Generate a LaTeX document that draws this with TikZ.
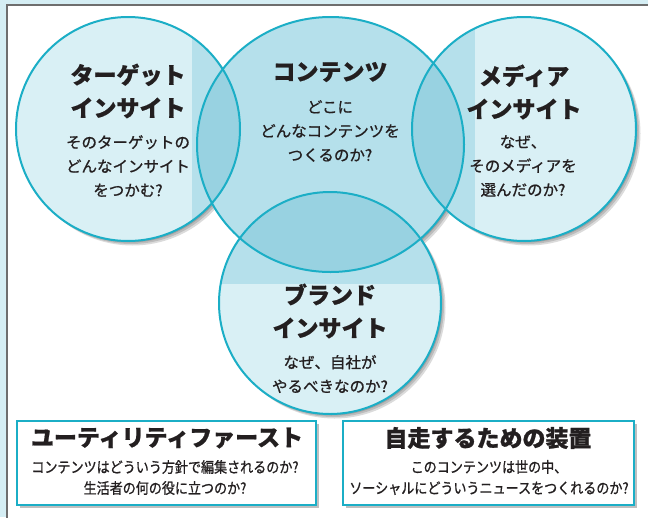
\documentclass[tikz,border=0pt]{standalone}
\usepackage{fontspec}
\setmainfont{Noto Sans CJK JP}
\newfontfamily\jpn{Noto Sans CJK JP}[FakeStretch=0.87,FakeBold=0.8]
\newfontfamily\jpm{Noto Sans CJK JP}[FakeBold=0.9]
\newfontfamily\jpt{Noto Sans CJK JP}[BoldFeatures={FakeBold=0.8}]
\definecolor{bgblue}{HTML}{D5EEF4}
\definecolor{framegray}{HTML}{6E6E6E}
\definecolor{ringcol}{HTML}{1BAEC6}
\definecolor{lightf}{HTML}{D9F0F5}
\definecolor{midf}{HTML}{B5E0EB}
\definecolor{darkf}{HTML}{98D2E1}
\definecolor{txt}{HTML}{231F20}
\begin{document}
\begin{tikzpicture}[x=1pt,y=-1pt,
  ring/.style={draw=ringcol,line width=2pt},
  ttl/.style={font=\jpt\fontsize{23}{33}\selectfont\bfseries,align=center,text=txt,inner sep=0pt},
  sub/.style={font=\jpm\fontsize{15.5}{24}\selectfont,align=center,text=txt,inner sep=0pt},
  boxttl/.style={font=\jpt\fontsize{23}{28}\selectfont\bfseries,text=txt,inner sep=0pt},
  boxsub/.style={font=\jpn\fontsize{15}{21}\selectfont,align=center,text=txt,inner sep=0pt},
  card/.style={draw=ringcol,line width=2.2pt,fill=white,inner sep=0pt},
  shade/.style={fill=black,opacity=0.14}]
\useasboundingbox (0,0) rectangle (648,517);
\clip (0,0) rectangle (648,517);
\fill[bgblue] (0,0) rectangle (648,517);
\fill[white] (7,5) rectangle (660,530);
\draw[framegray,line width=1.5pt] (7,530) -- (7,5) -- (660,5);

\def\cL{(128,129) circle[radius=112]}
\def\cR{(524,129) circle[radius=112]}
\def\cB{(330,303) circle[radius=111]}
\def\cC{(330.5,144.5) ellipse[x radius=133.5,y radius=127.5]}

% soft shadows
\foreach \d in {1.5,3,4.5}{
  \fill[shade,shift={(\d,\d)}] \cL;
  \fill[shade,shift={(\d,\d)}] \cR;
  \fill[shade,shift={(\d,\d)}] \cB;
  \fill[shade,shift={(\d,\d)}] \cC;
}
% light circles
\fill[lightf] \cL;
\fill[lightf] \cR;
\fill[lightf] \cB;
% tint band
\begin{scope}\clip \cL; \fill[midf] (192,0) rectangle (475,284);\end{scope}
\begin{scope}\clip \cR; \fill[midf] (192,0) rectangle (475,284);\end{scope}
\begin{scope}\clip \cB; \fill[midf] (192,0) rectangle (475,284);\end{scope}
% centre circle
\fill[midf] \cC;
% lenses
\begin{scope}\clip \cC;
  \fill[darkf] \cL;
  \fill[darkf] \cR;
  \fill[darkf] \cB;
\end{scope}
% outlines
\draw[ring] \cL;
\draw[ring] \cR;
\draw[ring] \cB;
\draw[ring] \cC;

% circle texts
\node[ttl] (tgtT) at (128,91) {ターゲット\\インサイト};
\node[sub] (tgtS) at (128,166) {そのターゲットの\\どんなインサイト\\をつかむ?};
\node[ttl] (conT) at (330,72) {コンテンツ};
\node[sub] (conS) at (330,131) {どこに\\どんなコンテンツを\\つくるのか?};
\node[ttl] (medT) at (524,92) {メディア\\インサイト};
\node[sub] (medS) at (523,166) {なぜ、\\そのメディアを\\選んだのか?};
\node[ttl] (brnT) at (330,311) {ブランド\\インサイト};
\node[sub] (brnS) at (330,374) {なぜ、自社が\\やるべきなのか?};

% bottom cards
\fill[black,opacity=0.25] (20,424) rectangle (319,508);
\fill[black,opacity=0.25] (346,424) rectangle (637,508);
\node[card,minimum width=299pt,minimum height=84pt] (util) at (166.5,463) {};
\node[card,minimum width=291pt,minimum height=84pt] (self) at (488.5,463) {};
\node[boxttl] (utilT) at (167,438) {ユーティリティファースト};
\node[boxsub] (utilS) at (165,477.5) {コンテンツはどういう方針で編集されるのか?\\生活者の何の役に立つのか?};
\node[boxttl] (selfT) at (488,438) {自走するための装置};
\node[boxsub] (selfS) at (489,477.5) {このコンテンツは世の中、\\ソーシャルにどういうニュースをつくれるのか?};
\end{tikzpicture}
\end{document}
